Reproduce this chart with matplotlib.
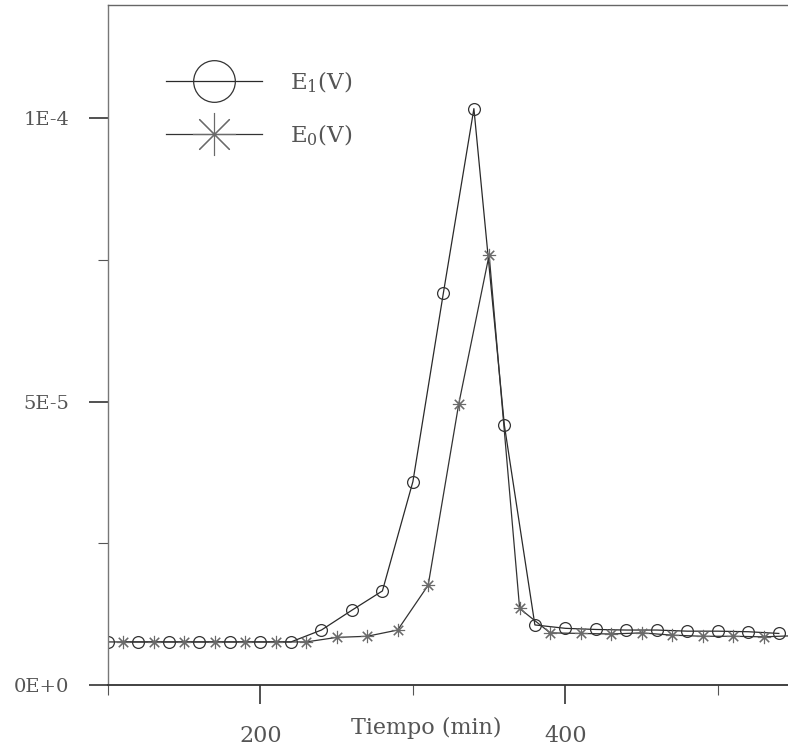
import matplotlib.pyplot as plt
import numpy as np

# time axis (min) and measured voltages
t_e1 = [100, 120, 140, 160, 180, 200, 220, 240, 260, 280, 300, 320, 340, 360,
        380, 400, 420, 440, 460, 480, 500, 520, 540]
e1 = [7.6e-6, 7.6e-6, 7.6e-6, 7.6e-6, 7.6e-6, 7.6e-6, 7.6e-6, 9.7e-6, 1.32e-5,
      1.66e-5, 3.59e-5, 6.92e-5, 1.017e-4, 4.58e-5, 1.06e-5, 1.0e-5, 9.8e-6,
      9.7e-6, 9.7e-6, 9.5e-6, 9.5e-6, 9.4e-6, 9.1e-6]

t_e0 = [110, 130, 150, 170, 190, 210, 230, 250, 270, 290, 310, 330, 350, 370,
        390, 410, 430, 450, 470, 490, 510, 530, 550]
e0 = [7.6e-6, 7.6e-6, 7.6e-6, 7.6e-6, 7.6e-6, 7.6e-6, 7.6e-6, 8.4e-6, 8.6e-6,
      9.7e-6, 1.76e-5, 4.95e-5, 7.59e-5, 1.35e-5, 9.2e-6, 9.1e-6, 9.0e-6,
      9.2e-6, 8.8e-6, 8.6e-6, 8.6e-6, 8.5e-6, 8.7e-6]

x_major = [200, 400]
x_minor = [100, 300, 500]
y_major = [0, 5e-5, 1e-4]
y_labels = ['0E+0', '5E-5', '1E-4']
y_minor = [2.5e-5, 7.5e-5]

txt = '#555555'
plt.rcParams['font.family'] = ['DejaVu Serif']
plt.rcParams['mathtext.fontset'] = 'dejavuserif'

fig = plt.figure(figsize=(7.88, 7.54), dpi=100)
ax = fig.add_axes([0.137, 0.0915, 0.863, 0.902])

ax.plot(t_e1, e1, color='#2a2a2a', lw=0.9, marker='o', ms=8.5,
        mfc='none', mec='#333333', mew=0.9, label='E$_1$(V)')
ax.plot(t_e0, e0, color='#333333', lw=0.9, marker=(8, 2, 0), ms=9.5,
        mec='#6a6a6a', mew=0.8, label='E$_0$(V)')

ax.set_xlim(100, 546)
ax.set_ylim(0, 1.2e-4)

ax.set_xticks(x_major)
ax.set_xticks(x_minor, minor=True)
ax.set_yticks(y_major)
ax.set_yticklabels(y_labels)
ax.set_yticks(y_minor, minor=True)

ax.tick_params(axis='both', which='major', direction='out', length=14,
               width=1.2, colors='#333333', labelcolor=txt)
ax.tick_params(axis='both', which='minor', direction='out', length=7,
               width=0.8, colors='#555555')
ax.tick_params(axis='x', which='major', pad=15, labelsize=16)
ax.tick_params(axis='y', which='major', pad=14, labelsize=14)

ax.spines['right'].set_visible(False)
ax.spines['left'].set_color('#777777')
ax.spines['left'].set_linewidth(1.0)
ax.spines['top'].set_color('#666666')
ax.spines['top'].set_linewidth(1.0)
ax.spines['bottom'].set_color('#333333')
ax.spines['bottom'].set_linewidth(1.3)

ax.set_xlabel('Tiempo (min)', fontsize=16, color=txt)
ax.xaxis.set_label_coords(0.468, -0.047)

leg = ax.legend(loc='upper left', bbox_to_anchor=(0.055, 0.935), frameon=False,
                fontsize=16.5, handlelength=4.2, handletextpad=1.2,
                labelspacing=1.2, labelcolor=txt)
# larger symbols in the key than on the curves
leg.legend_handles[0].set_markersize(30)
leg.legend_handles[1].set_markersize(31)

fig.savefig('out.png', dpi=100)
